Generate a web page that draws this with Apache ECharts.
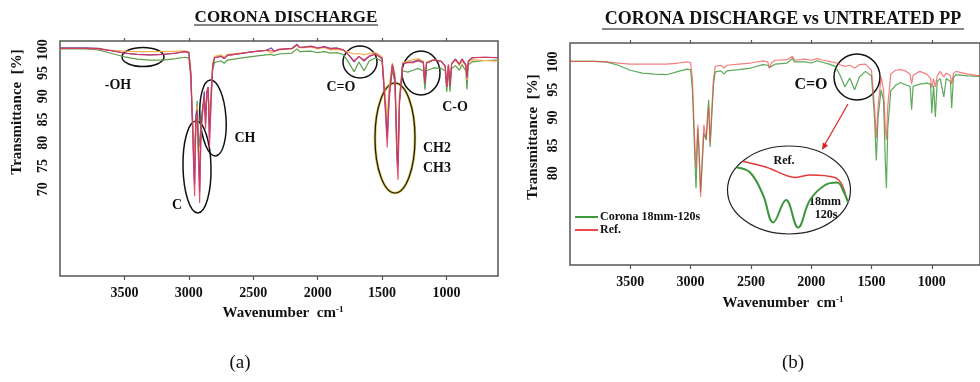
<!DOCTYPE html>
<html>
<head>
<meta charset="utf-8">
<script src="https://cdn.jsdelivr.net/npm/echarts@6/dist/echarts.min.js"></script>
<style>
  html, body { margin: 0; padding: 0; background: #fff; }
  #chart { width: 980px; height: 382px; }
</style>
</head>
<body>
<div id="chart"></div>
<script>
// tick labels
var xTicks = [1000, 1500, 2000, 2500, 3000, 3500]
var yTicksA = [70, 75, 80, 85, 90, 95, 100]
var yTicksB = [80, 85, 90, 95, 100]

// panel (a) - corona discharge, 4 samples
var wnA = [4000, 3800, 3700, 3600, 3500, 3400, 3300, 3200, 3100, 3030, 3000, 2985, 2970, 2960, 2955, 2945, 2935, 2925, 2916, 2905,
  2890, 2880, 2870, 2860, 2850, 2840, 2830, 2815, 2800, 2750, 2725, 2700, 2600, 2500, 2400, 2360, 2340, 2300, 2200, 2160,
  2140, 2050, 2000, 1950, 1900, 1850, 1800, 1760, 1717, 1680, 1640, 1600, 1550, 1500, 1475, 1460, 1445, 1420, 1400, 1385,
  1376, 1365, 1340, 1300, 1260, 1220, 1180, 1167, 1155, 1100, 1040, 1010, 998, 985, 973, 960, 930, 900, 880, 850,
  841, 830, 800, 700, 600]
var orangeA = [100.3, 100.3, 100.2, 99.9, 99.7, 99.6, 99.6, 99.6, 99.7, 99.8, 99.6, 96, 85, 78, 76, 84, 88, 80, 75, 83,
  88, 90, 86, 90, 91.5, 84, 90, 97, 98.6, 98.9, 98.4, 99.0, 99.3, 99.6, 99.9, 99.3, 99.6, 100.0, 100.2, 101.0,
  100.4, 100.6, 100.2, 100.5, 100.0, 100.1, 99.9, 99.5, 99.1, 99.2, 98.9, 99.2, 99.4, 98.5, 90, 84, 92, 97.2, 95, 82,
  78, 90, 97.2, 97.6, 97.9, 98.1, 97.6, 93.5, 97.3, 97.9, 97.6, 96.4, 92, 96.8, 92.5, 97, 97.8, 96.6, 97.6, 96.5,
  93.5, 97.2, 97.9, 97.7, 97.5]
var purpleA = [100.4, 100.4, 100.3, 99.8, 99.3, 99.0, 98.9, 99.0, 99.3, 99.6, 99.4, 95, 83, 74, 71, 86, 87, 78, 69.5, 84,
  88, 91, 84, 91, 92, 81, 88, 96.5, 98.3, 98.6, 98.1, 98.8, 99.2, 99.6, 99.9, 100.4, 99.7, 100.1, 100.3, 101.2,
  100.5, 100.8, 100.4, 100.7, 100.3, 100.4, 100.0, 98.9, 97.4, 98.6, 97.6, 98.6, 99.1, 98.2, 88, 81, 90, 96.8, 94, 78,
  75, 89, 97, 97.3, 97.4, 97.8, 97.3, 93, 97.2, 97.8, 97.5, 96.5, 92, 96.8, 92.3, 97, 98, 96.9, 98, 96.8,
  94, 97.6, 98.3, 98.4, 98.3]
var redA = [100.3, 100.3, 100.2, 99.8, 99.3, 99.0, 98.9, 99.0, 99.3, 99.6, 99.4, 95, 82, 72, 68.5, 84, 86, 76, 67, 82,
  87, 90, 83, 91, 92, 79, 86, 96.5, 98.3, 98.6, 98.1, 98.8, 99.2, 99.6, 99.9, 99.8, 99.7, 100.1, 100.3, 101.1,
  100.5, 100.7, 100.4, 100.6, 100.2, 100.3, 100.0, 98.9, 97.6, 98.6, 97.8, 98.7, 99.1, 98.0, 87, 79, 89, 96.8, 93, 76,
  72, 88, 97, 97.3, 97.2, 97.6, 97.2, 92.8, 97.1, 97.8, 97.5, 96.5, 92, 96.8, 92.2, 97, 98, 96.9, 98, 96.8,
  94, 97.6, 98.3, 98.4, 98.3]
var greenA = [100.2, 100.2, 100.0, 99.2, 98.5, 98.0, 97.8, 97.8, 98.1, 98.4, 98.2, 94, 84, 80, 78, 85, 89, 82, 79, 85,
  88, 89, 85.5, 90, 91, 84, 90, 95.5, 97.3, 97.6, 97.1, 97.8, 98.2, 98.6, 98.9, 99.0, 98.8, 99.1, 99.3, 100.2,
  99.6, 99.7, 99.4, 99.6, 99.3, 99.4, 99.0, 97.3, 95.3, 97.4, 95.5, 97.6, 98.3, 97.5, 89, 83, 91, 95.5, 93, 80,
  77, 89, 95.5, 95.2, 95.6, 96.0, 95.5, 91.4, 95.5, 96.1, 96.0, 95.5, 91, 95.8, 91, 96, 96.6, 95.6, 96.8, 95.5,
  91.5, 96.8, 97.4, 97.7, 97.8]

// panel (b) - corona 18mm-120s vs untreated reference
var wnB = [4000, 3800, 3700, 3600, 3500, 3400, 3300, 3200, 3100, 3030, 3000, 2985, 2970, 2960, 2955, 2948, 2940, 2930, 2917, 2905,
  2890, 2870, 2858, 2850, 2838, 2825, 2810, 2795, 2750, 2722, 2700, 2600, 2500, 2400, 2360, 2347, 2330, 2300, 2200, 2155,
  2140, 2050, 2000, 1950, 1900, 1850, 1800, 1760, 1720, 1680, 1640, 1600, 1550, 1500, 1475, 1460, 1445, 1420, 1400, 1385,
  1376, 1365, 1340, 1300, 1260, 1220, 1180, 1167, 1155, 1100, 1040, 1010, 1000, 985, 970, 955, 930, 900, 880, 845,
  835, 820, 800, 700, 600]
var refB = [100.1, 100.1, 100.0, 99.8, 99.6, 99.6, 99.6, 99.6, 99.8, 100.0, 99.9, 97, 88, 83, 81, 85, 88.7, 84, 75.7, 82,
  88.7, 86, 90, 92, 85.5, 91, 97, 99.2, 99.4, 98.9, 99.4, 99.6, 99.8, 100.2, 100.0, 98.9, 99.8, 100.3, 100.4, 101.0,
  100.3, 100.5, 100.3, 100.6, 100.3, 100.1, 99.9, 99.5, 99.2, 99.4, 98.9, 99.5, 99.6, 98.5, 92, 86.3, 92, 97.3, 95, 88,
  86, 92, 97.8, 98.5, 98.6, 98.4, 97.8, 96.0, 97.6, 98.3, 97.8, 97.0, 95.4, 97.0, 95.5, 97.5, 98.3, 97.3, 98.0, 97.5,
  96.0, 97.9, 98.3, 97.8, 97.5]
var coronaB = [100.1, 100.1, 100.0, 99.4, 98.5, 98.0, 97.8, 97.7, 98.3, 98.7, 98.6, 95, 86, 80, 77.3, 82, 88, 84, 76.6, 81,
  87.2, 86, 91, 93.2, 84.7, 90, 96, 98.2, 98.4, 97.8, 98.4, 98.6, 98.9, 99.5, 99.4, 99.0, 99.2, 99.6, 99.8, 100.6,
  100.0, 100.0, 99.8, 100.2, 99.9, 99.6, 99.2, 97.6, 95.5, 97.1, 95.0, 97.3, 98.3, 97.5, 90, 82.3, 90, 95.0, 93, 82,
  77.3, 88, 94.8, 95.8, 96.3, 95.9, 95.6, 91.4, 95.6, 96.0, 96.2, 96.0, 90.8, 95.8, 90.1, 96.5, 97.0, 93.7, 97.0, 96.5,
  91.7, 97.2, 97.7, 97.5, 97.4]

// inset: zoom on the C=O band
var wnInsetRef = [1833, 1780, 1720, 1687, 1633, 1617, 1607]
var insetRef = [99.5, 99.0, 98.2, 98.4, 98.2, 97.6, 96.4]
var wnInsetCorona = [1846, 1817, 1789, 1767, 1739, 1713, 1687, 1654, 1628, 1613, 1604]
var insetCorona = [99.0, 98.6, 96.8, 94.6, 96.4, 94.2, 96.4, 97.6, 97.8, 97.0, 96.2]

function pairs(xs, ys) {
  return xs.map(function (x, i) { return [x, ys[i]] })
}

var FONT = 'Liberation Serif'
var INK = '#111'

var myChart = echarts.init(document.getElementById('chart'))

function plain(v) { return String(v) }

function bottomAxis(grid) {
  return {
    type: 'value', gridIndex: grid, inverse: true, min: 600, max: 4000,
    axisLine: { show: false },
    splitLine: { show: false },
    axisTick: { show: true, customValues: xTicks, length: 4, lineStyle: { color: '#555', width: 1.2 } },
    axisLabel: { customValues: xTicks, formatter: plain, margin: 10, color: INK, fontFamily: FONT, fontWeight: 'bold', fontSize: 14 }
  }
}
function topAxis(grid) {
  return {
    type: 'value', gridIndex: grid, position: 'top', inverse: true, min: 600, max: 4000,
    axisLine: { show: false },
    splitLine: { show: false },
    axisTick: { show: true, customValues: xTicks, length: 3, lineStyle: { color: '#555', width: 1.2 } },
    axisLabel: { show: false }
  }
}
function leftAxis(grid, min, max, ticks) {
  return {
    type: 'value', gridIndex: grid, min: min, max: max,
    axisLine: { show: false },
    splitLine: { show: false },
    axisTick: { show: false },
    axisLabel: { customValues: ticks, formatter: plain, rotate: 90, margin: 10, color: INK, fontFamily: FONT, fontWeight: 'bold', fontSize: 14 }
  }
}
function line(name, x, y, data, color, width, opacity) {
  return {
    name: name, type: 'line', xAxisIndex: x, yAxisIndex: y, data: data,
    color: color, symbol: 'none', silent: true, animation: false,
    lineStyle: { color: color, width: width, opacity: opacity }
  }
}
function txt(s, x, y, size, weight) {
  return {
    type: 'text', x: x, y: y, silent: true,
    style: { text: s, fill: INK, font: (weight || 'bold') + ' ' + size + 'px "' + FONT + '"', align: 'center', verticalAlign: 'middle' }
  }
}
function ring(cx, cy, rx, ry, rot, color, w) {
  return {
    type: 'ellipse', x: cx, y: cy, rotation: rot || 0, silent: true,
    shape: { cx: 0, cy: 0, rx: rx, ry: ry },
    style: { fill: 'none', stroke: color || '#111', lineWidth: w || 1.5 }
  }
}

var option = {
  backgroundColor: '#fff',
  animation: false,
  title: [
    { text: 'CORONA DISCHARGE', left: 281, top: 4, textAlign: 'center',
      textStyle: { fontFamily: FONT, fontWeight: 'bold', fontSize: 17, color: INK } },
    { text: 'CORONA DISCHARGE vs UNTREATED PP', left: 778, top: 5, textAlign: 'center',
      textStyle: { fontFamily: FONT, fontWeight: 'bold', fontSize: 18, color: INK } }
  ],
  legend: {
    data: ['Corona 18mm-120s', 'Ref.'],
    left: 575, top: 211, orient: 'vertical', itemGap: 1, padding: 0,
    icon: 'rect', itemWidth: 23, itemHeight: 2,
    textStyle: { fontFamily: FONT, fontWeight: 'bold', fontSize: 12, color: INK, padding: [0, 0, 0, -3] }
  },
  grid: [
    { left: 60, top: 41, width: 438, height: 235, show: true, borderColor: '#555', borderWidth: 1.5, containLabel: false },
    { left: 570, top: 43, width: 418, height: 222, show: true, borderColor: '#555', borderWidth: 1.5, containLabel: false },
    { left: 735, top: 155, width: 115, height: 75, show: false }
  ],
  xAxis: [
    bottomAxis(0), topAxis(0), bottomAxis(1), topAxis(1),
    { type: 'value', gridIndex: 2, inverse: true, min: 1600, max: 1850, show: false }
  ],
  yAxis: [
    leftAxis(0, 51.3, 101.9, yTicksA),
    leftAxis(1, 63.5, 103.4, yTicksB),
    { type: 'value', gridIndex: 2, min: 94, max: 100, show: false }
  ],
  series: [
    line('Green', 0, 0, pairs(wnA, greenA), '#5c9e4c', 1.2, 1),
    line('Orange', 0, 0, pairs(wnA, orangeA), '#f6b24e', 1.2, 1),
    line('Purple', 0, 0, pairs(wnA, purpleA), '#7d3f96', 1.2, 1),
    line('Red', 0, 0, pairs(wnA, redA), '#e0395e', 1.1, 0.9),
    line('Corona 18mm-120s', 2, 1, pairs(wnB, coronaB), '#3d9b3d', 1.2, 0.85),
    line('Ref.', 2, 1, pairs(wnB, refB), '#f04848', 1.2, 0.7),
    Object.assign(line('insetRef', 4, 2, pairs(wnInsetRef, insetRef), '#e43a3a', 1.4, 1), { smooth: 0.3 }),
    Object.assign(line('insetCorona', 4, 2, pairs(wnInsetCorona, insetCorona), '#3a963a', 2, 1), { smooth: 0.4 })
  ],
  graphic: [
    // title underlines
    { type: 'line', silent: true, shape: { x1: 194, y1: 25, x2: 378, y2: 25 }, style: { stroke: INK, lineWidth: 1.2 } },
    { type: 'line', silent: true, shape: { x1: 602, y1: 29, x2: 964, y2: 29 }, style: { stroke: INK, lineWidth: 1.2 } },
    // axis titles
    { type: 'text', x: 17, y: 112, rotation: Math.PI / 2, silent: true,
      style: { text: 'Transmittance  [%]', fill: INK, font: 'bold 15px "' + FONT + '"', align: 'center', verticalAlign: 'middle' } },
    { type: 'text', x: 533, y: 137, rotation: Math.PI / 2, silent: true,
      style: { text: 'Transmittance  [%]', fill: INK, font: 'bold 15px "' + FONT + '"', align: 'center', verticalAlign: 'middle' } },
    { type: 'text', x: 283, y: 313, silent: true,
      style: { text: 'Wavenumber  cm{s|-1}', fill: INK, font: 'bold 15px "' + FONT + '"', align: 'center', verticalAlign: 'middle',
        rich: { s: { fontSize: 9, fontWeight: 'bold', fontFamily: FONT, verticalAlign: 'top', padding: [0, 0, 7, 0] } } } },
    { type: 'text', x: 783, y: 303, silent: true,
      style: { text: 'Wavenumber  cm{s|-1}', fill: INK, font: 'bold 15px "' + FONT + '"', align: 'center', verticalAlign: 'middle',
        rich: { s: { fontSize: 9, fontWeight: 'bold', fontFamily: FONT, verticalAlign: 'top', padding: [0, 0, 7, 0] } } } },
    txt('(a)', 240, 363, 19, 'normal'),
    txt('(b)', 793, 363, 19, 'normal'),
    // panel (a) annotations
    ring(143, 57, 21, 9.5, 0),
    ring(197, 167, 14, 46, 0.02),
    ring(213, 118, 13, 38, 0.07),
    ring(360, 62, 17, 16, 0),
    ring(395, 138, 20, 55, 0, '#d8bc4a', 2.6),
    ring(395, 138, 20, 55, 0, '#1a1a10', 1.2),
    ring(421, 73, 19, 22, 0),
    txt('-OH', 118, 85, 14),
    txt('C', 177, 205, 14),
    txt('CH', 245, 138, 14),
    txt('C=O', 341, 87, 14),
    txt('CH2', 437, 148, 14),
    txt('CH3', 437, 168, 14),
    txt('C-O', 455, 107, 14),
    // panel (b) annotations
    ring(857, 77, 23, 23, 0),
    txt('C=O', 811, 85, 16),
    { type: 'line', silent: true, shape: { x1: 848, y1: 104, x2: 824, y2: 146 }, style: { stroke: '#e02020', lineWidth: 1.2 } },
    { type: 'polygon', silent: true, shape: { points: [[822, 150], [828.1, 145.4], [822.9, 142.4]] }, style: { fill: '#e02020' } },
    ring(789, 190, 61.5, 44, 0, '#222', 1.2),
    txt('Ref.', 784, 161, 12),
    txt('18mm', 825, 202, 12),
    txt('120s', 826, 215, 12)
  ]
}

myChart.setOption(option)
</script>
</body>
</html>
